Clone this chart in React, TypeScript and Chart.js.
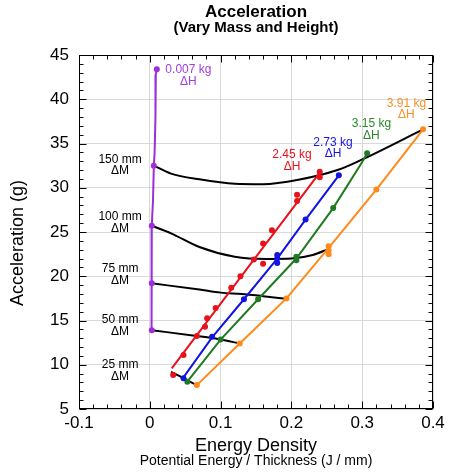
import React, { useEffect, useRef } from "react";
import { Chart, registerables } from "chart.js";

Chart.register(...registerables);

type P = [number, number];

// Constant-mass (ΔH) fitted lines
const purpleLine: P[] = [[0.0099, 43.4], [0.0085, 42.8], [0.008, 38.0], [0.0068, 34.0], [0.0057, 32.5], [0.0045, 28.5], [0.0028, 25.7], [0.0022, 22.0], [0.0028, 19.2], [0.0022, 16.5], [0.0028, 13.9]];
const purpleMarkers: P[] = [[0.0099, 43.4], [0.0057, 32.5], [0.0028, 25.7], [0.0028, 19.2], [0.0028, 13.9]];

const redLine: P[] = [[0.031, 9.6], [0.1, 16.9], [0.17, 24.3], [0.24, 31.7]];
const redMarkers: P[] = [[0.033, 8.85], [0.0476, 11.1], [0.0665, 13.25], [0.078, 14.3], [0.081, 15.25], [0.093, 16.4], [0.115, 18.7], [0.128, 20.0], [0.147, 21.9], [0.16, 21.4], [0.16, 23.7], [0.1725, 25.2], [0.208, 28.5], [0.208, 29.2], [0.24, 31.2], [0.24, 31.8]];

const blueLine: P[] = [[0.045, 8.3], [0.088, 13.1], [0.133, 17.4], [0.18, 22.0], [0.22, 26.4], [0.267, 31.4]];
const blueMarkers: P[] = [[0.0476, 8.47], [0.088, 13.15], [0.133, 17.4], [0.18, 21.5], [0.18, 22.0], [0.18, 22.4], [0.22, 26.4], [0.267, 31.4]];

const greenLine: P[] = [[0.053, 8.08], [0.1, 12.85], [0.153, 17.4], [0.207, 22.0], [0.259, 27.7], [0.3, 32.9], [0.307, 33.9]];
const greenMarkers: P[] = [[0.053, 8.08], [0.1, 12.85], [0.153, 17.4], [0.207, 21.8], [0.207, 22.2], [0.259, 27.7], [0.307, 33.9]];

const orangeLine: P[] = [[0.0665, 7.7], [0.127, 12.4], [0.193, 17.5], [0.2526, 23.2], [0.32, 29.8], [0.386, 36.6]];
const orangeMarkers: P[] = [[0.0665, 7.7], [0.127, 12.4], [0.193, 17.5], [0.2526, 22.5], [0.2526, 22.9], [0.2526, 23.4], [0.32, 29.8], [0.386, 36.6]];

// Constant-height (ΔM) curves
const mm150: P[] = [[0.0057, 32.5], [0.03, 31.6], [0.07, 30.95], [0.12, 30.45], [0.16, 30.4], [0.21, 30.9], [0.265, 32.0], [0.30, 33.2], [0.386, 36.6]];
const mm100: P[] = [[0.0028, 25.7], [0.03, 24.85], [0.07, 23.3], [0.12, 22.2], [0.165, 21.95], [0.2, 22.0], [0.23, 22.4], [0.253, 23.1]];
const mm75: P[] = [[0.0028, 19.2], [0.07, 18.5], [0.1, 18.15], [0.13, 18.0], [0.16, 17.75], [0.193, 17.45]];
const mm50: P[] = [[0.0028, 13.9], [0.066, 13.25], [0.1, 12.85], [0.127, 12.4]];
const mm25: P[] = [[0.03, 9.2], [0.045, 8.6], [0.055, 8.15], [0.0665, 7.7]];

const xTickValues = [-0.1, 0, 0.1, 0.2, 0.3, 0.4];
const yTickValues = [5, 10, 15, 20, 25, 30, 35, 40, 45];

const PURPLE = "#9b30d8";
const RED = "#e8121c";
const BLUE = "#1414e0";
const GREEN = "#1f7a22";
const ORANGE = "#ff8a1c";

const labels = [
  { l1: "0.007 kg", l2: "ΔH", x: 0.0545, y: 43.3, color: "#a040e0" },
  { l1: "150 mm", l2: "ΔM", x: -0.042, y: 33.2, color: "#000" },
  { l1: "100 mm", l2: "ΔM", x: -0.042, y: 26.7, color: "#000" },
  { l1: "75 mm", l2: "ΔM", x: -0.042, y: 20.8, color: "#000" },
  { l1: "50 mm", l2: "ΔM", x: -0.042, y: 15.06, color: "#000" },
  { l1: "25 mm", l2: "ΔM", x: -0.042, y: 9.97, color: "#000" },
  { l1: "2.45 kg", l2: "ΔH", x: 0.2008, y: 33.7, color: "#e8121c" },
  { l1: "2.73 kg", l2: "ΔH", x: 0.2588, y: 35.1, color: "#1414e0" },
  { l1: "3.15 kg", l2: "ΔH", x: 0.313, y: 37.2, color: "#2a8a2a" },
  { l1: "3.91 kg", l2: "ΔH", x: 0.3625, y: 39.5, color: "#f5902a" },
];

const FONT = "'Liberation Sans', Arial, Helvetica, sans-serif";

const toXY = (arr: P[]) => arr.map(([x, y]) => ({ x, y }));

const decor = {
  id: "decor",
  afterDraw(chart: any) {
    const { ctx, chartArea: a, scales } = chart;
    const xs = scales.x;
    const ys = scales.y;
    ctx.save();
    ctx.strokeStyle = "#000";
    ctx.lineWidth = 1;
    const L = Math.round(a.left) + 0.5;
    const R = Math.round(a.right) - 0.5;
    const T = Math.round(a.top) + 0.5;
    const B = Math.round(a.bottom) - 0.5;
    ctx.strokeRect(L, T, R - L, B - T);
    ctx.beginPath();
    for (let i = -5; i <= 20; i++) {
      const v = i * 0.02;
      const px = Math.round(xs.getPixelForValue(v)) + 0.5;
      const len = i % 5 === 0 ? 7 : 4;
      ctx.moveTo(px, B);
      ctx.lineTo(px, B - len);
      ctx.moveTo(px, T);
      ctx.lineTo(px, T + len);
    }
    for (let i = 5; i <= 45; i++) {
      const py = Math.round(ys.getPixelForValue(i)) + 0.5;
      const len = i % 5 === 0 ? 7 : 4;
      ctx.moveTo(L, py);
      ctx.lineTo(L + len, py);
      ctx.moveTo(R, py);
      ctx.lineTo(R - len, py);
    }
    ctx.stroke();

    const cx = (a.left + a.right) / 2;
    ctx.fillStyle = "#000";
    ctx.textAlign = "center";
    ctx.textBaseline = "middle";
    ctx.font = `bold 17px ${FONT}`;
    ctx.fillText("Acceleration", cx, 12);
    ctx.font = `bold 15px ${FONT}`;
    ctx.fillText("(Vary Mass and Height)", cx, 28);
    ctx.font = `18px ${FONT}`;
    ctx.fillText("Energy Density", cx, 446);
    ctx.font = `14px ${FONT}`;
    ctx.fillText("Potential Energy / Thickness (J / mm)", cx, 461);

    ctx.save();
    ctx.translate(18, 243);
    ctx.rotate(-Math.PI / 2);
    ctx.font = `18px ${FONT}`;
    ctx.fillText("Acceleration (g)", 0, 0);
    ctx.restore();

    ctx.font = `12px ${FONT}`;
    for (const lb of labels) {
      const px = xs.getPixelForValue(lb.x);
      const py = ys.getPixelForValue(lb.y);
      ctx.fillStyle = lb.color;
      ctx.fillText(lb.l1, px, py);
      ctx.fillText(lb.l2, px, py + 11.5);
    }
    ctx.restore();
  },
};

export default function App() {
  const ref = useRef<HTMLCanvasElement | null>(null);
  useEffect(() => {
    document.body.style.margin = "0";
    if (!ref.current) return;
    const lineDs = (data: P[], color: string, width: number, order: number, smooth = false) => ({
      data: toXY(data),
      showLine: true,
      borderColor: color,
      backgroundColor: color,
      borderWidth: width,
      pointRadius: 0,
      cubicInterpolationMode: smooth ? "monotone" : "default",
      tension: 0,
      order,
    });
    const markerDs = (data: P[], color: string) => ({
      data: toXY(data),
      showLine: false,
      borderColor: color,
      backgroundColor: color,
      pointRadius: 3,
      pointBorderWidth: 0,
      order: 1,
    });
    const chart = new Chart(ref.current, {
      type: "scatter",
      data: {
        datasets: [
          lineDs(mm150, "#000", 2, 4, true),
          lineDs(mm100, "#000", 2, 4, true),
          lineDs(mm75, "#000", 2, 4, true),
          lineDs(mm50, "#000", 2, 4, true),
          lineDs(mm25, "#000", 2, 4, false),
          lineDs(purpleLine, PURPLE, 2, 2),
          lineDs(redLine, RED, 2, 2),
          lineDs(blueLine, BLUE, 2, 2),
          lineDs(greenLine, GREEN, 2, 2),
          lineDs(orangeLine, ORANGE, 2, 2),
          markerDs(purpleMarkers, PURPLE),
          markerDs(redMarkers, RED),
          markerDs(blueMarkers, BLUE),
          markerDs(greenMarkers, GREEN),
          markerDs(orangeMarkers, ORANGE),
        ] as any,
      },
      options: {
        animation: false,
        responsive: false,
        layout: { padding: { top: 55, right: 17, bottom: 0, left: 0 } },
        plugins: { legend: { display: false }, tooltip: { enabled: false }, title: { display: false } },
        scales: {
          x: {
            type: "linear",
            min: -0.1,
            max: 0.4,
            afterFit: (s: any) => { s.height = 65; },
            afterBuildTicks: (s: any) => { s.ticks = xTickValues.map((v) => ({ value: v })); },
            ticks: {
              stepSize: 0.1,
              padding: 4,
              color: "#000",
              font: { size: 17, family: FONT },
              maxRotation: 0,
              callback: (v: any) => String(Number(Number(v).toFixed(2))),
            },
            grid: { color: "#d9d9d9", drawTicks: false },
            border: { display: false },
          },
          y: {
            type: "linear",
            min: 5,
            max: 45,
            afterFit: (s: any) => { s.width = 79; },
            afterBuildTicks: (s: any) => { s.ticks = yTickValues.map((v) => ({ value: v })); },
            ticks: {
              stepSize: 5,
              padding: 10,
              color: "#000",
              font: { size: 17, family: FONT },
              callback: (v: any) => String(v),
            },
            grid: { color: "#d9d9d9", drawTicks: false },
            border: { display: false },
          },
        },
      },
      plugins: [decor],
    });
    return () => chart.destroy();
  }, []);
  return (
    <div style={{ width: 450, height: 474 }}>
      <canvas ref={ref} width={450} height={474} style={{ display: "block" }} />
    </div>
  );
}
